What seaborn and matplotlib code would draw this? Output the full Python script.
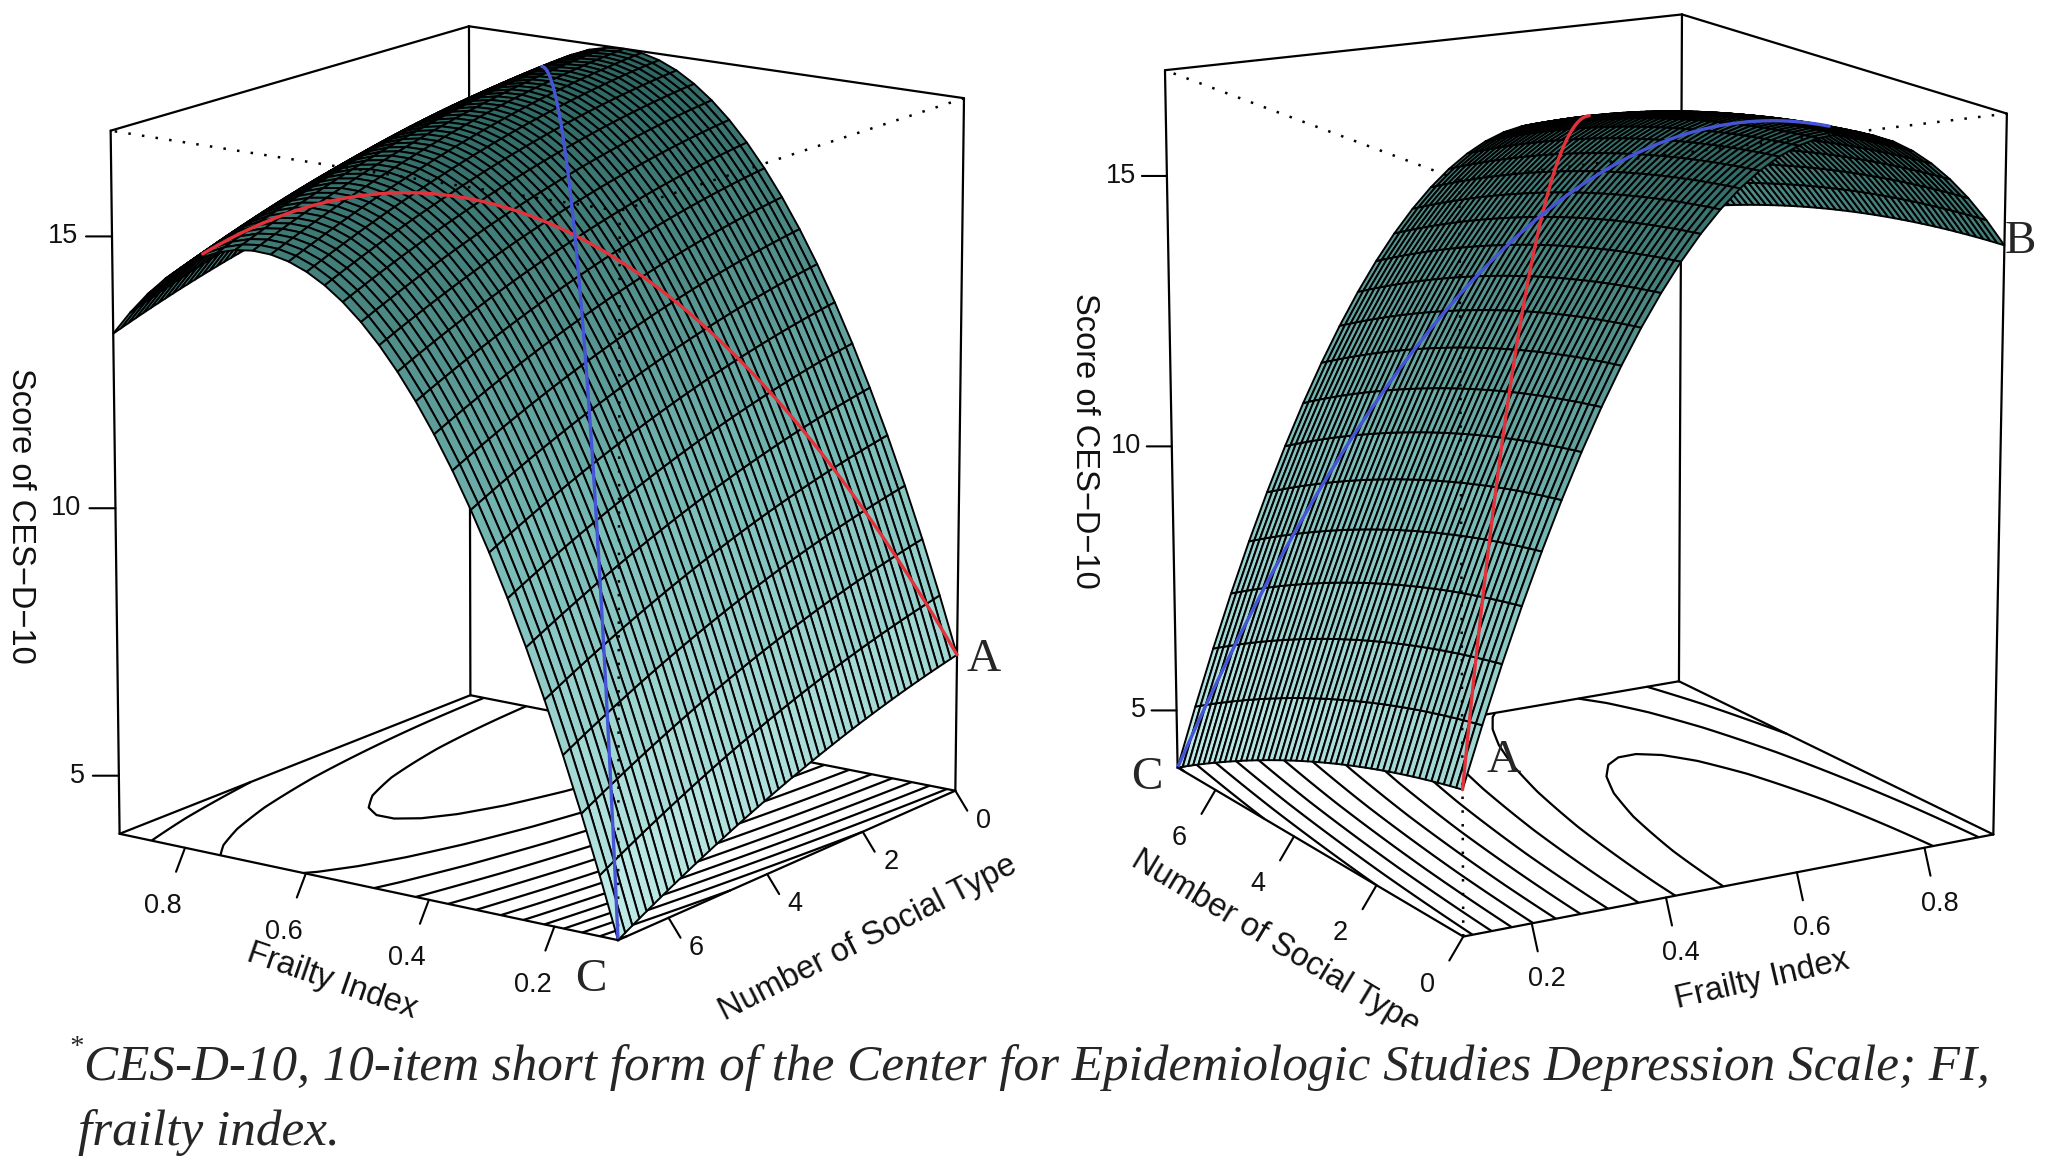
import numpy as np
import matplotlib
matplotlib.use("Agg")
import matplotlib.pyplot as plt
import seaborn as sns
from matplotlib.transforms import Bbox, TransformedBbox

sns.set_theme(style="white")
plt.rcParams["font.family"] = ["Liberation Sans", "DejaVu Sans"]

# ------------------------------------------------------------------ data
fi_limits = [0.10, 0.91]
nst_limits = [0.0, 7.0]
# fitted response surface  z = b0 + b1*FI + b2*NST + b3*FI^2 + b4*FI*NST + b5*NST^2
coef_terms = ["Intercept", "FI", "NST", "FI^2", "FI*NST", "NST^2"]
coef_values = [2.37, 44.75, -0.221, -34.4, 0.214, -0.0245]
fi_ticks = [0.2, 0.4, 0.6, 0.8]
fi_tick_labels = ["0.2", "0.4", "0.6", "0.8"]
nst_ticks = [0, 2, 4, 6]
nst_tick_labels = ["0", "2", "4", "6"]
z_ticks = [5, 10, 15]
z_tick_labels = ["5", "10", "15"]
contour_levels = [4, 5, 6, 7, 8, 9, 10, 11, 12, 13, 14, 15, 16]
red_line_from = [0.10, 0.0]    # corner A
red_line_to = [0.80, 7.0]
red_line_extent = 0.97
blue_line_from = [0.10, 7.0]   # corner C
blue_line_to = [0.80, 0.0]
blue_line_extent = 0.90
x_title = "Frailty Index"
y_title = "Number of Social Type"
z_title = "Score of CES\u2212D\u221210"
caption_lines = ["CES-D-10, 10-item short form of the Center for Epidemiologic Studies Depression Scale; FI,",
                 "frailty index."]

# ------------------------------------------------------------------ layout / style
W, H, DPI = 2046, 1163, 100
PT = 72.0 / DPI
N_FI, N_NST = 28, 50
TICK_FS, TITLE_FS, LETTER_FS = 19.5, 23.5, 34
surf_cmap = sns.blend_palette(["#2c6561", "#78bbb7", "#c4eeeb"], as_cmap=True)
RED, BLUE = "#e3323c", "#4655d6"

PANELS = [
    dict(rect=(40, 0, 1000), azim=124.0, elev=19.0, front=(0, 1), zcorner=(1, 1),
         targets={(1, 1, 0): (121, 833), (0, 1, 0): (621, 944), (0, 0, 0): (954, 791),
                  (1, 0, 0): (471, 693), (1, 1, 1): (108, 127), (1, 0, 1): (471, 29),
                  (0, 0, 1): (961, 98)},
         fi_j=1, nst_i=0,
         fi_tick=(-9, 24), fi_lab=(-22, 58),
         nst_tick=(12, 20), nst_lab=(28, 30),
         z_tick=(-26, 0), z_lab=(-34, 0),
         titles=[(x_title, 332, 981, -19), (y_title, 868, 938, 27), (z_title, 20, 516, 270)],
         letters=[("A", 984, 660), ("C", 591, 980)]),
    dict(rect=(1080, 0, 1000), azim=241.5, elev=19.5, front=(0, 0), zcorner=(0, 1),
         targets={(0, 1, 0): (1177, 768), (0, 0, 0): (1464, 935), (1, 0, 0): (1994, 833),
                  (1, 1, 0): (1683, 683), (0, 1, 1): (1162, 72), (1, 1, 1): (1683, 13),
                  (1, 0, 1): (2004, 114)},
         fi_j=0, nst_i=0,
         fi_tick=(6, 28), fi_lab=(15, 56),
         nst_tick=(-14, 24), nst_lab=(-36, 48),
         z_tick=(-25, 0), z_lab=(-31, 0),
         titles=[(y_title, 1275, 943, -31), (x_title, 1762, 980, 13), (z_title, 1085, 441, 270)],
         letters=[("A", 1504, 761), ("B", 2020, 242), ("C", 1147, 778)]),
]


def ces_surface(fi, nst):
    b = dict(zip(coef_terms, coef_values))
    return (b["Intercept"] + b["FI"] * fi + b["NST"] * nst + b["FI^2"] * fi ** 2
            + b["FI*NST"] * fi * nst + b["NST^2"] * nst ** 2)


fi_grid = np.linspace(fi_limits[0], fi_limits[1], N_FI + 1)
nst_grid = np.linspace(nst_limits[0], nst_limits[1], N_NST + 1)
FI, NST = np.meshgrid(fi_grid, nst_grid)
Z = ces_surface(FI, NST)
z_limits = [float(Z.min()), float(Z.max())]
LIMS = [fi_limits, nst_limits, z_limits]


def corner_xyz(key):
    return [LIMS[d][key[d]] for d in range(3)]


def project(ax, xs, ys, zs):
    xs = np.asarray(xs, float)
    M = ax.get_proj()
    v = M @ np.vstack([xs, np.asarray(ys, float), np.asarray(zs, float), np.ones_like(xs)])
    return np.column_stack([v[0] / v[3], v[1] / v[3]])


def similarity(P, T):
    Pm, Tm = P.mean(0), T.mean(0)
    dP, dT = P - Pm, T - Tm
    s = (dP * dT).sum() / (dP * dP).sum()
    return s, Tm - s * Pm, ((s * dP - dT) ** 2).sum()


def set_view(ax, f, az, el, h):
    if f is None:
        ax.set_proj_type("ortho")
    else:
        ax.set_proj_type("persp", focal_length=f)
    ax.view_init(elev=el, azim=az)
    ax.set_box_aspect((1, 1, h))


def target_arrays(cfg):
    keys = list(cfg["targets"])
    xyz = np.array([corner_xyz(k) for k in keys], float).T
    T = np.array([[cfg["targets"][k][0], H - cfg["targets"][k][1]] for k in keys], float)
    return xyz, T


def fit_view(ax, cfg):
    xyz, T = target_arrays(cfg)
    best = (np.inf, None)
    for f in (0.3, 0.45, 0.6, 0.8, 1.0, 1.5, None):
        for az in np.arange(cfg["azim"] - 8, cfg["azim"] + 8.01, 1.0):
            for el in np.arange(cfg["elev"] - 6, cfg["elev"] + 6.01, 1.0):
                for h in np.arange(1.0, 1.51, 0.05):
                    set_view(ax, f, az, el, h)
                    r = similarity(project(ax, *xyz), T)[2]
                    if r < best[0]:
                        best = (r, (f, az, el, h))
    f, az0, el0, h0 = best[1]
    for az in np.arange(az0 - 1, az0 + 1.01, 0.25):
        for el in np.arange(el0 - 1, el0 + 1.01, 0.25):
            for h in np.arange(h0 - 0.05, h0 + 0.051, 0.01):
                set_view(ax, f, az, el, h)
                r = similarity(project(ax, *xyz), T)[2]
                if r < best[0]:
                    best = (r, (f, az, el, h))
    set_view(ax, *best[1])
    return best[1]


def visible(fi_pts, nst_pts, z_pts, view, dist=10.0):
    f, az, el, h = view
    A = np.array([1.0, 1.0, h])
    A = A * 1.8294640721620434 / np.linalg.norm(A)
    lo = np.array([l[0] for l in LIMS])
    span = np.array([l[1] - l[0] for l in LIMS])
    P = (np.column_stack([fi_pts, nst_pts, z_pts]) - lo) / span * A
    a, e = np.deg2rad(az), np.deg2rad(el)
    ps = np.array([np.cos(e) * np.cos(a), np.cos(e) * np.sin(a), np.sin(e)])
    eye = 0.5 * A + dist * (f if f is not None else 1000.0) * ps
    dirs = eye - P
    dirs /= np.linalg.norm(dirs, axis=1)[:, None]
    s = np.arange(3, 800) * 0.004
    Q = P[:, None, :] + s[None, :, None] * dirs[:, None, :]
    qx = lo[0] + Q[..., 0] / A[0] * span[0]
    qy = lo[1] + Q[..., 1] / A[1] * span[1]
    inside = ((qx >= fi_limits[0]) & (qx <= fi_limits[1]) &
              (qy >= nst_limits[0]) & (qy <= nst_limits[1]))
    inside = np.cumprod(inside, axis=1).astype(bool)
    zs = (ces_surface(qx, qy) - lo[2]) / span[2] * A[2]
    D = Q[..., 2] - zs
    sign0 = np.where(D[:, 0] >= 0, 1.0, -1.0)
    occluded = np.any(inside & (D * sign0[:, None] < -2e-4), axis=1)
    return ~occluded


def box_edges(front):
    fi_i, nst_j = front
    corners = [(i, j, k) for i in (0, 1) for j in (0, 1) for k in (0, 1)]
    solid, dotted, axis_edges = [], [], []
    top_front, floor_front = (fi_i, nst_j, 1), (fi_i, nst_j, 0)
    for a in corners:
        for b in corners:
            if a < b and sum(abs(p - q) for p, q in zip(a, b)) == 1:
                if top_front in (a, b):
                    dotted.append((a, b))
                elif floor_front in (a, b):
                    axis_edges.append((a, b))
                else:
                    solid.append((a, b))
    return solid, dotted, axis_edges


def add_ticks(ax, xs, ys, zs, labels, tick_vec, lab_off, ha="center"):
    P = project(ax, xs, ys, zs)
    for (px, py), lab in zip(P, labels):
        ax.annotate("", xy=(px, py), xycoords="data",
                    xytext=(tick_vec[0] * PT, -tick_vec[1] * PT), textcoords="offset points",
                    arrowprops=dict(arrowstyle="-", color="black", lw=1.5, shrinkA=0, shrinkB=0),
                    annotation_clip=False, zorder=8)
        ax.annotate(lab, xy=(px, py), xycoords="data",
                    xytext=(lab_off[0] * PT, -lab_off[1] * PT), textcoords="offset points",
                    ha=ha, va="center", fontsize=TICK_FS, color="#111111",
                    annotation_clip=False, zorder=8)


fig = plt.figure(figsize=(W / DPI, H / DPI), dpi=DPI)
fig.patch.set_facecolor("white")

# facet colours by height (light at the bottom, dark teal at the top)
zc = 0.25 * (Z[:-1, :-1] + Z[1:, :-1] + Z[:-1, 1:] + Z[1:, 1:])
frac = (z_limits[1] - zc) / (z_limits[1] - z_limits[0])
fc_small = surf_cmap(frac)
facecols = np.ones(Z.shape + (4,))
facecols[:-1, :-1] = fc_small
facecols[-1, :-1] = fc_small[-1]
facecols[:-1, -1] = fc_small[:, -1]
facecols[-1, -1] = fc_small[-1, -1]

axes = []
for cfg in PANELS:
    l, t, size = cfg["rect"]
    ax = fig.add_axes([l / W, 1 - (t + size) / H, size / W, size / H],
                      projection="3d", computed_zorder=False)
    ax.set_axis_off()
    ax.patch.set_visible(False)
    ax.set_xlim(*fi_limits)
    ax.set_ylim(*nst_limits)
    ax.set_zlim(*z_limits)
    view = fit_view(ax, cfg)
    cfg["view"] = view

    solid, dotted, axis_edges = box_edges(cfg["front"])
    for a, b in solid:
        pa, pb = corner_xyz(a), corner_xyz(b)
        ax.plot(*zip(pa, pb), color="black", lw=1.6, zorder=1)

    ax.contour(FI, NST, Z, levels=contour_levels, zdir="z", offset=z_limits[0],
               colors="black", linewidths=1.6, zorder=1.5)

    ax.plot_surface(FI, NST, Z, rstride=1, cstride=1, facecolors=facecols,
                    edgecolor="black", linewidth=1.4, shade=False, antialiased=True, zorder=3)

    for a, b in dotted:
        pa, pb = corner_xyz(a), corner_xyz(b)
        ax.plot(*zip(pa, pb), color="black", lw=1.8, ls=(0, (1, 4.5)), zorder=5)

    for (p0, p1, ext, col) in [(red_line_from, red_line_to, red_line_extent, RED),
                               (blue_line_from, blue_line_to, blue_line_extent, BLUE)]:
        tt = np.linspace(0, ext, 300)
        lx = p0[0] + (p1[0] - p0[0]) * tt
        ly = p0[1] + (p1[1] - p0[1]) * tt
        lz = ces_surface(lx, ly)
        vis = visible(lx, ly, lz, view)
        lz = np.where(vis, lz, np.nan)
        ax.plot(lx, ly, lz, color=col, lw=2.4, zorder=6, solid_capstyle="round")

    for a, b in axis_edges:
        pa, pb = corner_xyz(a), corner_xyz(b)
        ax.plot(*zip(pa, pb), color="black", lw=1.6, zorder=7)

    z0 = z_limits[0]
    fy = nst_limits[cfg["fi_j"]]
    add_ticks(ax, fi_ticks, [fy] * 4, [z0] * 4, fi_tick_labels, cfg["fi_tick"], cfg["fi_lab"])
    nx = fi_limits[cfg["nst_i"]]
    add_ticks(ax, [nx] * 4, nst_ticks, [z0] * 4, nst_tick_labels, cfg["nst_tick"], cfg["nst_lab"])
    zxc = fi_limits[cfg["zcorner"][0]]
    zyc = nst_limits[cfg["zcorner"][1]]
    add_ticks(ax, [zxc] * 3, [zyc] * 3, z_ticks, z_tick_labels, cfg["z_tick"], cfg["z_lab"], ha="right")
    axes.append(ax)

# scale / place each 3-D box onto its reference position
fig.canvas.draw()
for ax, cfg in zip(axes, PANELS):
    xyz, T = target_arrays(cfg)
    Ppix = ax.transData.transform(project(ax, *xyz))
    s, t, _ = similarity(Ppix, T)
    pos = ax.get_position()
    x0, y0 = pos.x0 * W, pos.y0 * H
    w, h = pos.width * W, pos.height * H
    ax.set_position([(s * x0 + t[0]) / W, (s * y0 + t[1]) / H, s * w / W, s * h / H])

clip_box = TransformedBbox(Bbox([[0, (H - 1027) / H], [1, 1]]), fig.transFigure)
for cfg in PANELS:
    for text, cx, cy, rot in cfg["titles"]:
        tx = fig.text(cx / W, 1 - cy / H, text, rotation=rot, rotation_mode="anchor",
                      ha="center", va="center", fontsize=TITLE_FS, color="#111111")
        tx.set_clip_box(clip_box)
        tx.set_clip_on(True)
    for letter, cx, cy in cfg["letters"]:
        fig.text(cx / W, 1 - cy / H, letter, ha="center", va="center",
                 fontsize=LETTER_FS, family=["Liberation Serif", "DejaVu Serif"])

cap_kw = dict(family=["Liberation Serif", "DejaVu Serif"], style="italic", va="baseline")
cap1 = fig.text(84 / W, 1 - 1080 / H, caption_lines[0], fontsize=34, ha="left", **cap_kw)
cap2 = fig.text(78 / W, 1 - 1145 / H, caption_lines[1], fontsize=34, ha="left", **cap_kw)
renderer = fig.canvas.get_renderer()
fs = 34 * 1907.0 / cap1.get_window_extent(renderer).width
cap1.set_fontsize(fs)
cap2.set_fontsize(fs)
fig.text(82 / W, 1 - 1054 / H, "*", fontsize=fs * 0.55, ha="right", **cap_kw)

fig.savefig("out.png", dpi=DPI, facecolor="white")
